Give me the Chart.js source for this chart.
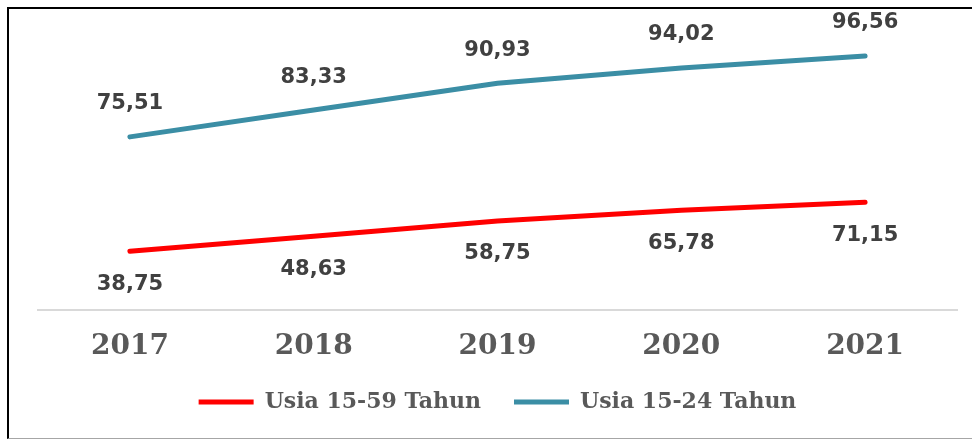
<!DOCTYPE html>
<html>
<head>
<meta charset="utf-8">
<script src="https://cdn.jsdelivr.net/npm/chart.js@4"></script>
<style>
  html, body { margin: 0; padding: 0; background: #fff; }
  #wrap { position: relative; width: 972px; height: 439px; }
  #frame {
    position: absolute; left: 7px; top: 7px; width: 970px; height: 429px;
    border-left: 2px solid #000; border-top: 2px solid #000;
    border-bottom: 1px solid #a6a6a6; pointer-events: none;
  }
</style>
</head>
<body>
<div id="wrap">
  <canvas id="grafik" width="972" height="439"></canvas>
  <div id="frame"></div>
</div>
<script>
// data
const tahun = ["2017", "2018", "2019", "2020", "2021"];
const usia1559 = [38.75, 48.63, 58.75, 65.78, 71.15];
const usia1524 = [75.51, 83.33, 90.93, 94.02, 96.56];
const namaSeri = ["Usia 15-59 Tahun", "Usia 15-24 Tahun"];

// label angka di atas / bawah garis
const labelAngka = {
  id: "labelAngka",
  afterDatasetsDraw(chart) {
    const ctx = chart.ctx;
    ctx.save();
    ctx.font = "bold 21px 'DejaVu Sans'";
    ctx.fillStyle = "#404040";
    ctx.textAlign = "center";
    ctx.textBaseline = "middle";
    chart.data.datasets.forEach((ds, i) => {
      const meta = chart.getDatasetMeta(i);
      meta.data.forEach((pt, j) => {
        const teks = ds.data[j].toFixed(2).replace(".", ",");
        const dy = i === 0 ? 33 : -33;
        ctx.fillText(teks, pt.x, pt.y + dy);
      });
    });
    ctx.restore();
  }
};

new Chart(document.getElementById("grafik"), {
  type: "line",
  data: {
    labels: tahun,
    datasets: [
      {
        label: namaSeri[0],
        data: usia1559,
        borderColor: "#ff0000",
        backgroundColor: "#ff0000",
        borderWidth: 5,
        borderCapStyle: "round",
        pointRadius: 0,
        fill: false
      },
      {
        label: namaSeri[1],
        data: usia1524,
        borderColor: "#3b8ea5",
        backgroundColor: "#3b8ea5",
        borderWidth: 5,
        borderCapStyle: "round",
        pointRadius: 0,
        fill: false
      }
    ]
  },
  options: {
    responsive: false,
    animation: false,
    layout: { padding: { left: 38, right: 15, top: 7, bottom: 16 } },
    scales: {
      x: {
        offset: true,
        grid: { display: false, drawTicks: false },
        border: { color: "#d9d9d9", width: 2 },
        ticks: {
          padding: 20,
          color: "#595959",
          font: { family: "'DejaVu Serif'", size: 28, weight: "bold" }
        },
        afterFit: (scale) => { scale.height = 48; }
      },
      y: {
        display: false,
        stacked: true,
        min: 0,
        max: 200
      }
    },
    plugins: {
      legend: {
        position: "bottom",
        labels: {
          usePointStyle: true,
          pointStyle: "line",
          pointStyleWidth: 55,
          padding: 33,
          color: "#595959",
          font: { family: "'DejaVu Serif'", size: 22, weight: "bold" }
        }
      },
      tooltip: { enabled: false }
    }
  },
  plugins: [labelAngka]
});
</script>
</body>
</html>
